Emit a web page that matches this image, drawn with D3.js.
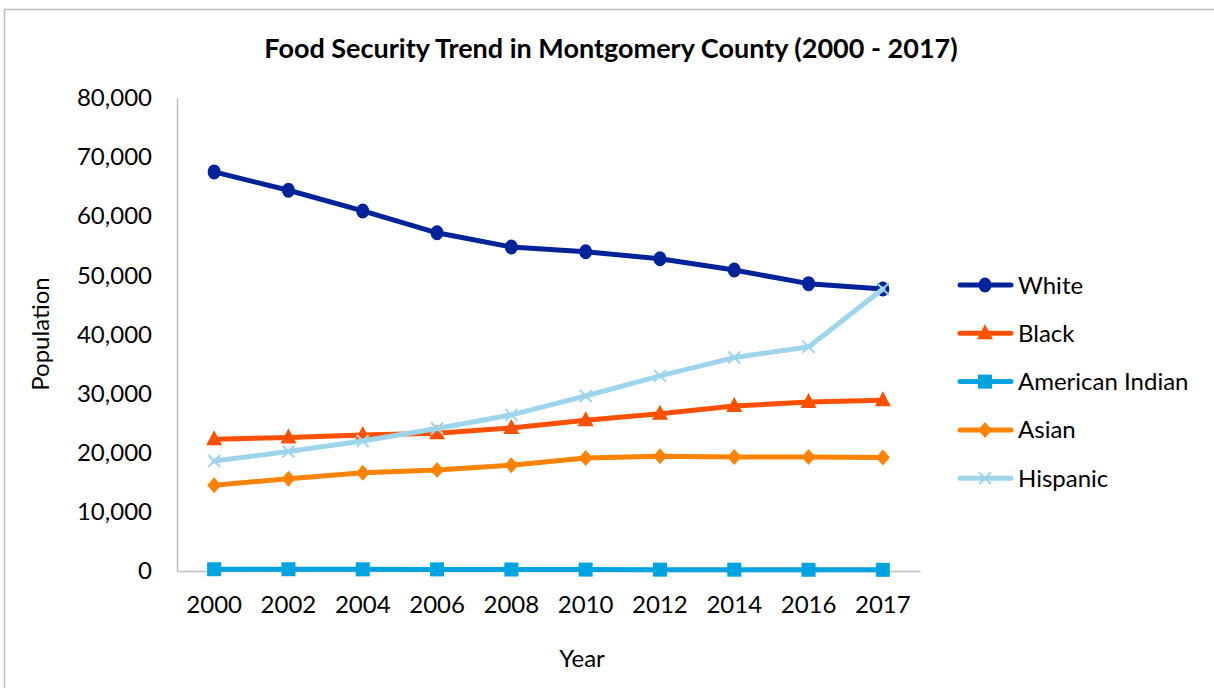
<!DOCTYPE html>
<html><head><meta charset="utf-8">
<script src="https://cdn.jsdelivr.net/npm/d3@7"></script>
<style>html,body{margin:0;padding:0;background:#fff;}svg{display:block;}</style>
</head><body>
<svg id="chart" width="1214" height="688"></svg>
<script>
const years = ["2000","2002","2004","2006","2008","2010","2012","2014","2016","2017"];
const white = [67500,64400,60900,57200,54800,54000,52800,50900,48600,47700];
const black = [22300,22600,23000,23300,24200,25500,26600,27900,28600,28900];
const americanIndian = [300,300,280,270,250,240,230,220,210,200];
const asian = [14500,15600,16600,17100,17900,19100,19400,19300,19300,19200];
const hispanic = [18600,20200,22000,24100,26400,29600,33000,36100,37900,47700];
const yTicks = [0,10000,20000,30000,40000,50000,60000,70000,80000];
const seriesNames = ["White","Black","American Indian","Asian","Hispanic"];
const seriesColors = ["#00239A","#FF5000","#00A3E0","#FF8300","#9DD6EB"];
const seriesMarkers = ["circle","triangle","square","diamond","cross"];
const seriesData = [white,black,americanIndian,asian,hispanic];

(function(){
const svg = d3.select("#chart");
const font = "Lato, 'Open Sans', sans-serif";
const pLeft = 177, pRight = 920, pTop = 98, pBottom = 571;

svg.append("rect").attr("x",4.5).attr("y",9.5).attr("width",1240).attr("height",700)
  .attr("fill","none").attr("stroke","#BFBFBF").attr("stroke-width",1.5);

const x = d3.scaleBand().domain(years).range([pLeft,pRight]).paddingInner(0).paddingOuter(0);
const y = d3.scaleLinear().domain([0,80000]).range([pBottom,pTop]);
const cx = d => x(d) + x.bandwidth()/2;

const yAxis = svg.append("g").attr("transform",`translate(${pLeft},0)`)
  .call(d3.axisLeft(y).tickValues(yTicks).tickSize(0).tickPadding(25).tickFormat(d3.format(",")));
yAxis.select(".domain").attr("stroke","#BFBFBF").attr("stroke-width",1.5);
yAxis.selectAll("text").attr("font-family",font).attr("font-size",24).attr("fill","#000");

const xAxis = svg.append("g").attr("transform",`translate(0,${pBottom})`)
  .call(d3.axisBottom(x).tickSize(0).tickPadding(25));
xAxis.select(".domain").attr("stroke","#BFBFBF").attr("stroke-width",1.5);
xAxis.selectAll("text").attr("font-family",font).attr("font-size",24).attr("fill","#000");

svg.append("text").attr("x",611).attr("y",58).attr("text-anchor","middle")
  .attr("font-family",font).attr("font-weight","bold").attr("font-size",27).text("Food Security Trend in Montgomery County (2000 - 2017)");
svg.append("text").attr("x",582).attr("y",667).attr("text-anchor","middle")
  .attr("font-family",font).attr("font-size",24).text("Year");
svg.append("text").attr("transform","translate(49,334) rotate(-90)").attr("text-anchor","middle")
  .attr("font-family",font).attr("font-size",24).text("Population");

function marker(g, type, color, px, py){
  if(type==="circle") g.append("ellipse").attr("cx",px).attr("cy",py).attr("rx",6.5).attr("ry",7.5).attr("fill",color);
  else if(type==="triangle") g.append("path").attr("d",`M${px},${py-9}L${px+8},${py+6}L${px-8},${py+6}Z`).attr("fill",color);
  else if(type==="square") g.append("rect").attr("x",px-7).attr("y",py-7).attr("width",14).attr("height",14).attr("fill",color);
  else if(type==="diamond") g.append("path").attr("d",`M${px},${py-8}L${px+7},${py}L${px},${py+8}L${px-7},${py}Z`).attr("fill",color);
  else if(type==="cross") g.append("path").attr("d",`M${px-6},${py-6}L${px+6},${py+6}M${px+6},${py-6}L${px-6},${py+6}`).attr("stroke",color).attr("stroke-width",2);
}

const line = d3.line().x((d,i)=>cx(years[i])).y(d=>y(d));
seriesData.forEach((data,si)=>{
  const g = svg.append("g");
  g.append("path").datum(data).attr("d",line).attr("fill","none")
    .attr("stroke",seriesColors[si]).attr("stroke-width",5).attr("stroke-linejoin","round").attr("stroke-linecap","round");
  data.forEach((v,i)=>marker(g,seriesMarkers[si],seriesColors[si],cx(years[i]),y(v)));
});

seriesNames.forEach((name,i)=>{
  const ly = 285 + i*48.3;
  const g = svg.append("g");
  g.append("line").attr("x1",960).attr("x2",1011).attr("y1",ly).attr("y2",ly)
    .attr("stroke",seriesColors[i]).attr("stroke-width",5).attr("stroke-linecap","round");
  marker(g,seriesMarkers[i],seriesColors[i],985,ly);
  g.append("text").attr("x",1018).attr("y",ly+8.5).attr("font-family",font).attr("font-size",24).text(name);
});
})();
</script>
</body></html>
